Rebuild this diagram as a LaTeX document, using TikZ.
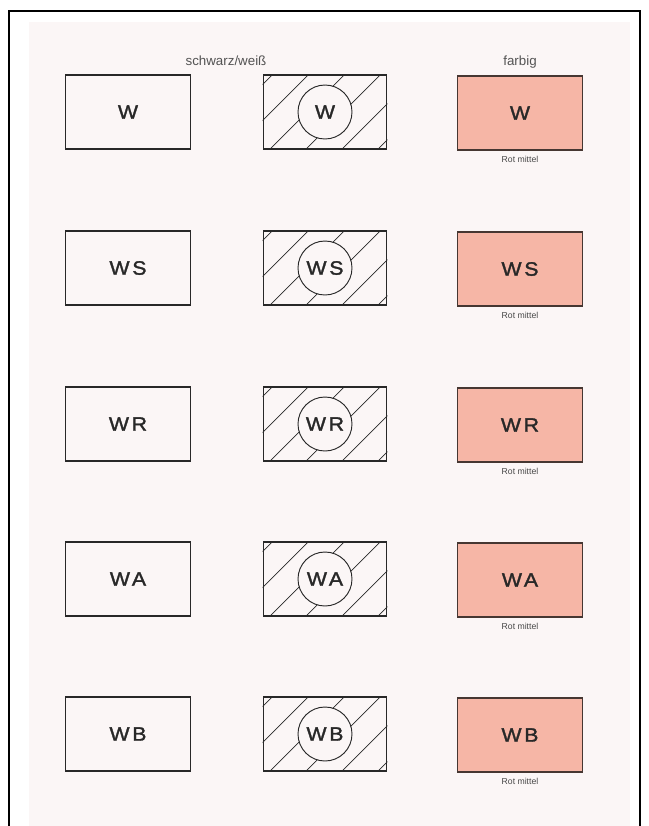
\documentclass[tikz,border=0pt]{standalone}
\usepackage{fontspec}
\newfontfamily\lblfont[FakeStretch=1.1,LetterSpace=14,FakeBold=1.6]{Liberation Sans}
\newfontfamily\smfont{Liberation Sans}
\definecolor{paper}{RGB}{251,246,246}
\definecolor{salmon}{RGB}{246,182,166}
\definecolor{ink}{RGB}{40,40,40}
\definecolor{redink}{RGB}{70,55,50}
\tikzset{
  plainbox/.style={draw=ink, line width=0.9pt, minimum width=93.75pt, minimum height=55.5pt, inner sep=0pt, font=\lblfont\fontsize{14.5}{16}\selectfont, text=ink},
  hatchbox/.style={draw=ink, line width=0.9pt, minimum width=92.5pt, minimum height=55.5pt, inner sep=0pt},
  ringnode/.style={circle, draw=ink, line width=0.7pt, fill=paper, minimum size=40.5pt, inner sep=0pt, font=\lblfont\fontsize{14.5}{16}\selectfont, text=ink},
  colorbox/.style={draw=redink, line width=1.2pt, fill=salmon, minimum width=93.75pt, minimum height=55.5pt, inner sep=0pt, font=\lblfont\fontsize{14.5}{16}\selectfont, text=ink},
  hatchline/.style={draw=ink, line width=0.6pt},
  caption/.style={font=\smfont\fontsize{10}{12}\selectfont, text=ink!80},
  tiny/.style={font=\smfont\fontsize{6.5}{8}\selectfont, text=ink!85, inner sep=0pt, anchor=north},
  frame/.style={draw=black, line width=1.4pt}
}
\begin{document}
\begin{tikzpicture}[x=0.75pt, y=-0.75pt]
\useasboundingbox (0,0) rectangle (649,826);
\fill[paper] (29,22) rectangle (630,826);
\draw[frame] (9,826) -- (9,11) -- (640,11) -- (640,826);

\node[caption] (sw) at (226,61) {schwarz/weiß};
\node[caption] (fb) at (520,62) {farbig};

\foreach \i/\t/\yy in {1/W/112, 2/WS/268, 3/WR/424, 4/WA/579, 5/WB/734} {
  \node[plainbox] (p\i) at (128,\yy) {\t};
  \node[hatchbox] (h\i) at (325,\yy) {};
  \begin{scope}
    \clip (h\i.north west) rectangle (h\i.south east);
    \begin{scope}[shift={(h\i.north west)}]
      \foreach \k in {0,...,5} {
        \pgfmathsetmacro{\c}{10+36*\k}
        \draw[hatchline] (\c+100,-100) -- (\c-200,200);
      }
    \end{scope}
  \end{scope}
  \node[ringnode] (c\i) at (h\i.center) {\t};
  \node[colorbox] (f\i) at (520,\yy+1) {\t};
  \node[tiny] (r\i) at ([yshift=-3.5pt]f\i.south) {Rot mittel};
}
\end{tikzpicture}
\end{document}
